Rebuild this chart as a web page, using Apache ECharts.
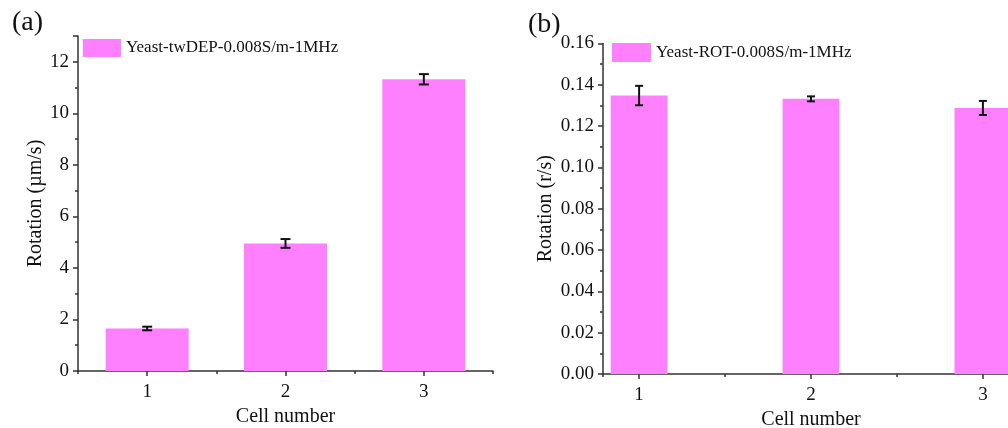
<!DOCTYPE html>
<html>
<head>
<meta charset="utf-8">
<script src="https://cdn.jsdelivr.net/npm/echarts@6/dist/echarts.min.js"></script>
<style>
  html, body { margin: 0; padding: 0; background: #fff; }
  #main { width: 1008px; height: 428px; }
</style>
</head>
<body>
<div id="main"></div>
<script>
// cell numbers on the x axis
const cells = [1, 2, 3];
// (a) twDEP rotation speed, um/s
const twdepMean = [1.65, 4.95, 11.32];
const twdepErr = [0.07, 0.17, 0.2];
// (b) ROT rotation rate, r/s
const rotMean = [0.1348, 0.1332, 0.1288];
const rotErr = [0.0047, 0.0012, 0.0034];

const twdepName = 'Yeast-twDEP-0.008S/m-1MHz';
const rotName = 'Yeast-ROT-0.008S/m-1MHz';

const FONT = 'Liberation Serif';
const AXIS_COLOR = '#333';
const BAR_COLOR = '#ff80ff';

const chart = echarts.init(document.getElementById('main'));

function pairs(xs, ys) {
  return xs.map((x, i) => [x, ys[i]]);
}

function errData(xs, ys, es) {
  return xs.map((x, i) => [x, ys[i] - es[i], ys[i] + es[i]]);
}

// error bar: vertical line with caps
function errRender(cap) {
  return function (params, api) {
    const lo = api.coord([api.value(0), api.value(1)]);
    const hi = api.coord([api.value(0), api.value(2)]);
    const style = { stroke: '#111', lineWidth: 2 };
    return {
      type: 'group',
      children: [
        { type: 'line', shape: { x1: lo[0], y1: lo[1], x2: hi[0], y2: hi[1] }, style: style },
        { type: 'line', shape: { x1: lo[0] - cap, y1: lo[1], x2: lo[0] + cap, y2: lo[1] }, style: style },
        { type: 'line', shape: { x1: hi[0] - cap, y1: hi[1], x2: hi[0] + cap, y2: hi[1] }, style: style }
      ]
    };
  };
}

const labelStyle = { color: '#111', fontFamily: FONT, fontSize: 19 };
const nameStyle = { color: '#111', fontFamily: FONT, fontSize: 20 };
const titleStyle = { fontFamily: FONT, fontSize: 28, fontWeight: 'normal', color: '#111' };
const legendText = { fontFamily: FONT, fontSize: 17, color: '#111' };

function mainX(grid, min, max, split) {
  return {
    type: 'value', gridIndex: grid, position: 'bottom', min: min, max: max, splitNumber: split,
    name: 'Cell number', nameLocation: 'middle', nameGap: 26, nameTextStyle: nameStyle,
    axisLine: { lineStyle: { color: AXIS_COLOR, width: 1.5 } },
    axisTick: { length: 5, lineStyle: { color: AXIS_COLOR, width: 1.5 } },
    axisLabel: {
      margin: 12, ...labelStyle,
      formatter: v => (Math.abs(v - Math.round(v)) < 1e-6 ? String(Math.round(v)) : ''),
      showMinLabel: false, showMaxLabel: false
    },
    splitLine: { show: false }
  };
}

// second x axis for the short ticks between cells
function minorX(grid, min, max, split) {
  return {
    type: 'value', gridIndex: grid, position: 'bottom', min: min, max: max, splitNumber: split,
    axisLine: { show: false },
    axisTick: { length: 3, lineStyle: { color: AXIS_COLOR, width: 1.5 } },
    axisLabel: { show: false },
    splitLine: { show: false }
  };
}

function yAxisOf(grid, max, interval, name, gap, fmt) {
  return {
    type: 'value', gridIndex: grid, min: 0, max: max, interval: interval,
    name: name, nameLocation: 'middle', nameGap: gap, nameTextStyle: nameStyle,
    axisLine: { show: true, lineStyle: { color: AXIS_COLOR, width: 1.5 } },
    axisTick: { show: true, length: 5, lineStyle: { color: AXIS_COLOR, width: 1.5 } },
    minorTick: { show: true, splitNumber: 2, length: 3, lineStyle: { color: AXIS_COLOR, width: 1.5 } },
    axisLabel: { margin: 9, ...labelStyle, formatter: fmt },
    splitLine: { show: false }
  };
}

const option = {
  animation: false,
  title: [
    { text: '(a)', left: 7, top: 4, textStyle: titleStyle },
    { text: '(b)', left: 523, top: 6, textStyle: titleStyle }
  ],
  legend: [
    {
      data: [twdepName], left: 83, top: 39, padding: 0, icon: 'rect',
      itemWidth: 38, itemHeight: 18, itemGap: 5, textStyle: legendText
    },
    {
      data: [rotName], left: 612, top: 43, padding: 0, icon: 'rect',
      itemWidth: 39, itemHeight: 19, itemGap: 5, textStyle: legendText
    }
  ],
  grid: [
    { left: 78, top: 36, width: 415, height: 335, outerBoundsMode: 'none' },
    { left: 603, top: 43.5, right: -11, height: 330.5, outerBoundsMode: 'none' }
  ],
  xAxis: [
    mainX(0, 0.5, 3.5, 3),
    minorX(0, 0.5, 3.5, 6),
    mainX(1, 0.79, 3.21, 2),
    minorX(1, 0.79, 3.21, 5)
  ],
  yAxis: [
    yAxisOf(0, 13, 2, 'Rotation (µm/s)', 32, v => (v > 12 ? '' : String(v))),
    yAxisOf(1, 0.16, 0.02, 'Rotation (r/s)', 47, v => v.toFixed(2))
  ],
  series: [
    {
      name: twdepName, type: 'bar', xAxisIndex: 0, yAxisIndex: 0,
      barWidth: '60%', itemStyle: { color: BAR_COLOR },
      data: pairs(cells, twdepMean)
    },
    {
      type: 'custom', xAxisIndex: 0, yAxisIndex: 0, z: 5,
      renderItem: errRender(5), data: errData(cells, twdepMean, twdepErr)
    },
    {
      name: rotName, type: 'bar', xAxisIndex: 2, yAxisIndex: 1,
      barWidth: '33%', itemStyle: { color: BAR_COLOR },
      data: pairs(cells, rotMean)
    },
    {
      type: 'custom', xAxisIndex: 2, yAxisIndex: 1, z: 5,
      renderItem: errRender(4), data: errData(cells, rotMean, rotErr)
    }
  ]
};

chart.setOption(option);
</script>
</body>
</html>
